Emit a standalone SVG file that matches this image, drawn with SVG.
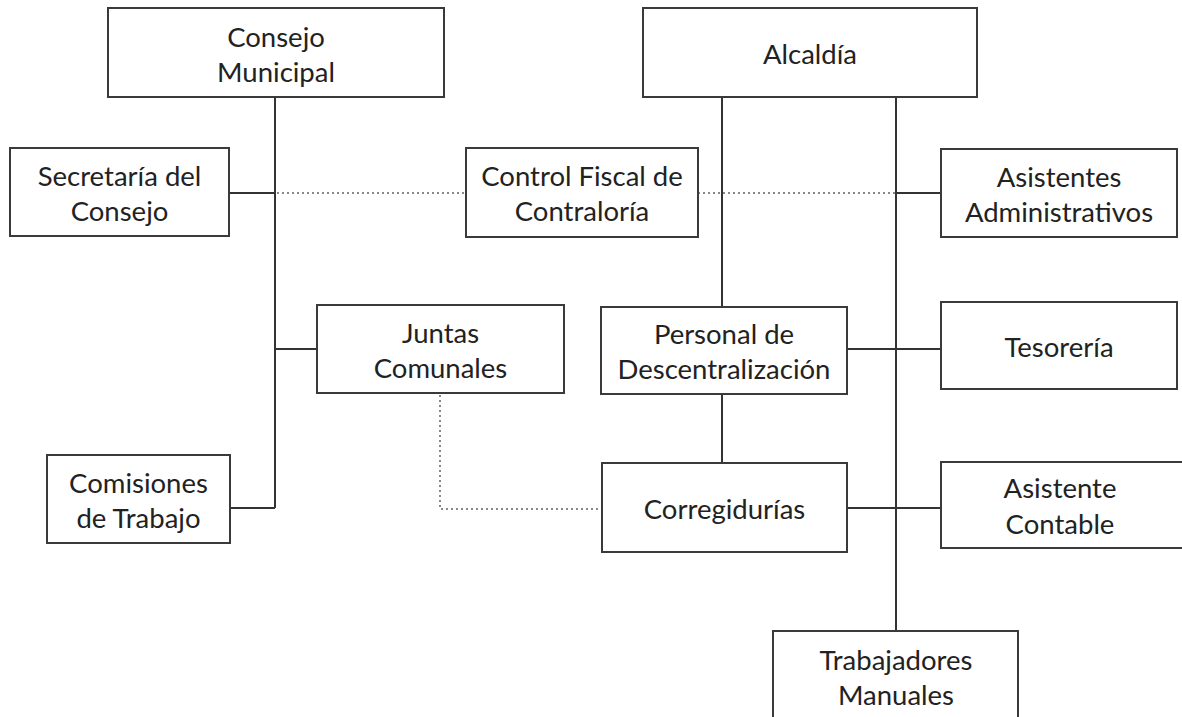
<svg xmlns="http://www.w3.org/2000/svg" width="1182" height="717" viewBox="0 0 1182 717">
<style>
.box{fill:#fff;stroke:#3a3a3a;stroke-width:2}
.t{font-family:Lato,"Liberation Sans",sans-serif;font-size:27.5px;fill:#222;text-anchor:middle}
.ln{stroke:#333;stroke-width:2;fill:none}
.dot{stroke:#888;stroke-width:2;stroke-dasharray:2 3;fill:none}
</style>
<rect width="1182" height="717" fill="#fff"/>
<g id="connectors">
<line class="ln" x1="275" y1="97" x2="275" y2="508"/>
<line class="ln" x1="229" y1="193" x2="275" y2="193"/>
<line class="ln" x1="275" y1="349" x2="317" y2="349"/>
<line class="ln" x1="230" y1="508" x2="275" y2="508"/>
<line class="dot" x1="277" y1="193" x2="466" y2="193"/>
<line class="dot" x1="698" y1="193" x2="895" y2="193"/>
<line class="ln" x1="722" y1="97" x2="722" y2="307"/>
<line class="ln" x1="722" y1="394" x2="722" y2="463"/>
<line class="ln" x1="896" y1="97" x2="896" y2="631"/>
<line class="ln" x1="896" y1="193" x2="941" y2="193"/>
<line class="ln" x1="847" y1="349" x2="941" y2="349"/>
<line class="ln" x1="847" y1="508" x2="941" y2="508"/>
<polyline class="dot" points="440,395 440,509 602,509"/>
</g>
<g id="consejo-municipal"><rect class="box" x="108" y="8" width="336" height="89"/><text class="t" x="276" y="47">Consejo</text><text class="t" x="276" y="82">Municipal</text></g>
<g id="alcaldia"><rect class="box" x="643" y="8" width="334" height="89"/><text class="t" x="810" y="64">Alcaldía</text></g>
<g id="secretaria"><rect class="box" x="10" y="148" width="219" height="88"/><text class="t" x="119.5" y="186">Secretaría del</text><text class="t" x="119.5" y="221">Consejo</text></g>
<g id="control-fiscal"><rect class="box" x="466" y="148" width="232" height="89"/><text class="t" x="582" y="186">Control Fiscal de</text><text class="t" x="582" y="221">Contraloría</text></g>
<g id="asistentes-administrativos"><rect class="box" x="941" y="149" width="236" height="88"/><text class="t" x="1059" y="187">Asistentes</text><text class="t" x="1059" y="222">Administrativos</text></g>
<g id="juntas-comunales"><rect class="box" x="317" y="305" width="247" height="88"/><text class="t" x="440.5" y="343">Juntas</text><text class="t" x="440.5" y="378">Comunales</text></g>
<g id="personal-descentralizacion"><rect class="box" x="601" y="307" width="246" height="87"/><text class="t" x="724" y="344">Personal de</text><text class="t" x="724" y="379">Descentralización</text></g>
<g id="tesoreria"><rect class="box" x="941" y="302" width="236" height="87"/><text class="t" x="1059" y="357">Tesorería</text></g>
<g id="comisiones"><rect class="box" x="47" y="455" width="183" height="88"/><text class="t" x="138.5" y="493">Comisiones</text><text class="t" x="138.5" y="528">de Trabajo</text></g>
<g id="corregidurias"><rect class="box" x="602" y="463" width="245" height="89"/><text class="t" x="724.5" y="519">Corregidurías</text></g>
<g id="asistente-contable"><rect class="box" x="941" y="462" width="245" height="86"/><text class="t" x="1060" y="498">Asistente</text><text class="t" x="1060" y="534">Contable</text></g>
<g id="trabajadores-manuales"><rect class="box" x="773" y="631" width="245" height="95"/><text class="t" x="896" y="670">Trabajadores</text><text class="t" x="896" y="705">Manuales</text></g>
</svg>
